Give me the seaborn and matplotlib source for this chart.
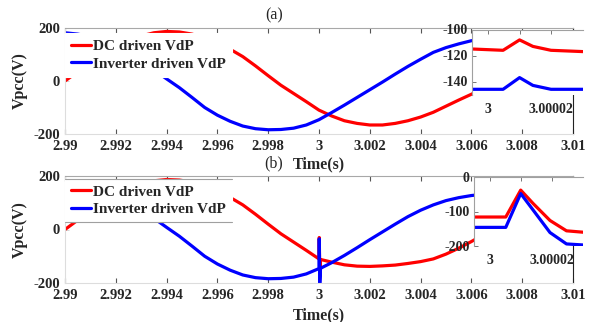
import matplotlib
matplotlib.use("Agg")
import matplotlib.pyplot as plt
from matplotlib.lines import Line2D
from matplotlib.transforms import IdentityTransform
import pandas as pd
import seaborn as sns

# time axis of the main plots (s)
time_main = [2.9900, 2.9905, 2.9910, 2.9915, 2.9920, 2.9925, 2.9930, 2.9935,
             2.9940, 2.9945, 2.9950, 2.9955, 2.9960, 2.9965, 2.9970, 2.9975,
             2.9980, 2.9985, 2.9990, 2.9995, 3.0000, 3.0005, 3.0010, 3.0015,
             3.0020, 3.0025, 3.0030, 3.0035, 3.0040, 3.0045, 3.0050, 3.0055,
             3.0060, 3.0065]

# (a) Vpcc
red_a = [0, 35, 70, 101, 129, 152, 170, 182, 187, 185, 177, 162, 143, 120, 92, 57,
         20, -16, -47, -78, -110, -132, -150, -160, -166, -166, -160, -150, -136,
         -118, -95, -72, -50, -26]
blue_a = [182, 177, 167, 151, 130, 105, 75, 42, 8, -25, -62, -100, -129, -152,
          -170, -180, -184, -183, -178, -166, -146, -119, -91, -62, -33, -4, 26,
          55, 82, 108, 126, 140, 152, 158]

# (b) Vpcc, with the switching transient at t = 3 s
time_b = [2.9900, 2.9905, 2.9910, 2.9915, 2.9920, 2.9925, 2.9930, 2.9935,
          2.9940, 2.9945, 2.9950, 2.9955, 2.9960, 2.9965, 2.9970, 2.9975,
          2.9980, 2.9985, 2.9990, 2.9995, 3.0000, 3.00001, 3.00003, 3.00006,
          3.0005, 3.0010, 3.0015, 3.0020, 3.0025, 3.0030, 3.0035, 3.0040,
          3.0045, 3.0050, 3.0055, 3.0060, 3.0065]
red_b = [0, 35, 70, 101, 129, 152, 170, 182, 187, 185, 177, 162, 143, 120, 92, 57,
         20, -16, -47, -78, -110, -30, -160, -112, -122, -132, -137, -138, -136,
         -133, -127, -120, -110, -92, -70, -45, -18]
blue_b = [182, 177, 167, 151, 130, 105, 75, 42, 8, -25, -62, -100, -129, -152,
          -170, -180, -184, -183, -178, -166, -146, -35, -200, -145, -124, -97,
          -68, -38, -9, 20, 48, 72, 92, 108, 119, 127, 132]

# zoomed insets around t = 3 s
time_zoom_a = [2.999995, 3.0000048, 3.00001, 3.0000142, 3.0000199, 3.00003]
red_zoom_a = [-115, -116, -108, -113, -116, -117]
blue_zoom_a = [-146, -146, -137, -143, -146, -146]

time_zoom_b = [2.999995, 3.0000052, 3.00001, 3.000014, 3.0000194, 3.0000247, 3.00003]
red_zoom_b = [-116, -116, -38, -77, -126, -156, -160]
blue_zoom_b = [-146, -146, -48, -96, -161, -194, -197]

series_labels = ["DC driven VdP", "Inverter driven VdP"]
series_colors = ["#ff0000", "#0000ff"]

main_xticks = [2.99, 2.992, 2.994, 2.996, 2.998, 3.0, 3.002, 3.004, 3.006, 3.008, 3.01]
main_xticklabels = ["2.99", "2.992", "2.994", "2.996", "2.998", "3",
                    "3.002", "3.004", "3.006", "3.008", "3.01"]
main_yticks = [-200, 0, 200]
zoom_xticks = [3.0, 3.00001, 3.00002]
zoom_xticklabels = ["3", "", "3.00002"]

sns.set_style("ticks")
plt.rcParams["font.family"] = ["Liberation Serif", "DejaVu Serif"]
plt.rcParams["font.weight"] = "bold"
plt.rcParams["axes.unicode_minus"] = False
plt.rcParams["xtick.direction"] = "in"
plt.rcParams["ytick.direction"] = "in"

W, H = 592, 322
fig = plt.figure(figsize=(W / 100, H / 100), dpi=100)


def box(left, top, right, bottom):
    return [left / W, 1 - bottom / H, (right - left) / W, (bottom - top) / H]


def draw_main(pos, t, red, blue, legend_top, xlabel_y):
    ax = fig.add_axes(pos)
    df = pd.DataFrame({"t": t, "red": red, "blue": blue})
    sns.lineplot(data=df, x="t", y="red", color=series_colors[0], lw=2.3,
                 label=series_labels[0], estimator=None, sort=False, ax=ax)
    sns.lineplot(data=df, x="t", y="blue", color=series_colors[1], lw=2.3,
                 label=series_labels[1], estimator=None, sort=False, ax=ax)
    ax.set_xlim(2.99, 3.01)
    ax.set_ylim(-200, 200)
    ax.set_xticks(main_xticks)
    ax.set_xticklabels(main_xticklabels)
    ax.set_yticks(main_yticks)
    ax.tick_params(axis="x", top=True, bottom=True, length=3.5, width=0.8,
                   color="#555555", labelsize=10.5, pad=4)
    ax.tick_params(axis="y", left=True, right=False, length=3, width=0.6,
                   color="#cccccc", labelsize=10.5, pad=3.5)
    for side, col in [("top", "#a8a8a8"), ("left", "#dddddd"),
                      ("bottom", "#dddddd"), ("right", "#222222")]:
        ax.spines[side].set_color(col)
        ax.spines[side].set_linewidth(0.8)
    ax.set_ylabel("Vpcc(V)", fontsize=11.5, fontweight="bold")
    ax.yaxis.set_label_coords(-0.073, 0.5)
    ax.set_xlabel("Time(s)", fontsize=11.5, fontweight="bold")
    ax.xaxis.set_label_coords(0.5, xlabel_y)
    leg = ax.legend(loc="upper left", bbox_to_anchor=(0, legend_top),
                    borderaxespad=0, fancybox=False, framealpha=1,
                    edgecolor="white", handlelength=1.3, handletextpad=0.15,
                    labelspacing=0.25, borderpad=0.4,
                    prop={"size": 11, "weight": "bold"})
    leg.get_frame().set_linewidth(0.8)
    for line in leg.get_lines():
        line.set_linewidth(2.3)
    return ax, leg


def draw_zoom(pos, t, red, blue, ylim, yticks):
    axz = fig.add_axes(pos)
    axz.set_facecolor("white")
    sns.lineplot(x=t, y=red, color=series_colors[0], lw=2.3,
                 estimator=None, sort=False, ax=axz)
    sns.lineplot(x=t, y=blue, color=series_colors[1], lw=2.3,
                 estimator=None, sort=False, ax=axz)
    axz.set_xlim(2.999995, 3.00003)
    axz.set_ylim(*ylim)
    axz.set_xticks(zoom_xticks)
    axz.set_xticklabels(zoom_xticklabels)
    axz.set_yticks(yticks)
    axz.set_yticklabels([str(v) for v in yticks])
    axz.tick_params(axis="x", top=True, bottom=False, labelbottom=True,
                    length=3, width=0.7, color="#777777", labelsize=10, pad=6)
    axz.tick_params(axis="y", left=True, length=3, width=0.7,
                    color="#777777", labelsize=10, pad=3)
    axz.spines["top"].set_color("#a0a0a0")
    axz.spines["left"].set_color("#a0a0a0")
    axz.spines["bottom"].set_visible(False)
    axz.spines["right"].set_visible(False)
    axz.set_xlabel("")
    axz.set_ylabel("")
    return axz


ax_a, leg_a = draw_main(box(65, 28, 573, 134), time_main, red_a, blue_a, 0.95, -0.21)
ax_b, leg_b = draw_main(box(65, 176, 573, 283), time_b, red_b, blue_b, 0.972, -0.225)
draw_zoom(box(472, 29.5, 583, 94.5), time_zoom_a, red_zoom_a, blue_zoom_a,
          (-150, -100), [-140, -120, -100])
draw_zoom(box(474, 177, 583, 246), time_zoom_b, red_zoom_b, blue_zoom_b,
          (-200, 0), [-200, -100, 0])

# legend of (b): only the top and bottom edges of its frame show
fig.canvas.draw()
bb = leg_b.get_window_extent()
for y in (bb.y0, bb.y1):
    fig.add_artist(Line2D([bb.x0, bb.x1], [y, y], transform=IdentityTransform(),
                          color="#a0a0a0", lw=0.8, zorder=10))

fig.text(274 / W, 1 - 15 / H, "(a)", ha="center", va="center",
         fontsize=11.5, fontweight="normal")
fig.text(274 / W, 1 - 163 / H, "(b)", ha="center", va="center",
         fontsize=11.5, fontweight="normal")

fig.savefig("out.png", dpi=100)
